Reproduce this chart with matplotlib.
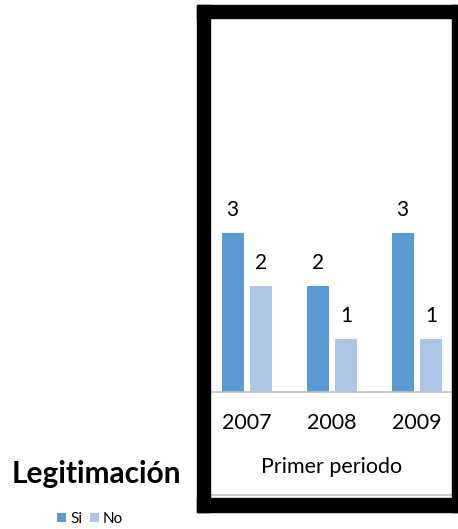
import matplotlib.pyplot as plt
from matplotlib.patches import Rectangle
from matplotlib.lines import Line2D
import numpy as np

plt.rcParams['font.family'] = ['Lato', 'DejaVu Sans']

years = ["2007", "2008", "2009"]
si_values = [3, 2, 3]
no_values = [2, 1, 1]
period_label = "Primer periodo"
title = "Legitimación"

W, H = 458, 529
fig = plt.figure(figsize=(W / 100, H / 100), dpi=100)

def fx(px):
    return px / W

def fy(py):
    return 1 - py / H

# black frame around the chart area
frame = [(197, 5, 13, 507), (197, 5, 261, 13), (452, 5, 6, 507), (197, 498, 261, 14)]
for x0, y0, w, h in frame:
    fig.patches.append(Rectangle((fx(x0), fy(y0 + h)), w / W, h / H,
                                 transform=fig.transFigure, color="black", zorder=5))
fig.lines.append(Line2D([fx(210), fx(452)], [fy(495), fy(495)],
                        transform=fig.transFigure, color="#bfbfbf", lw=1.2))

ax = fig.add_axes([fx(210), fy(392), fx(451) - fx(210), fy(18) - fy(392)])
x = np.arange(len(years))
bw = 0.26
off = 0.168
b1 = ax.bar(x - off, si_values, bw, color="#5b9bd5", label="Si")
b2 = ax.bar(x + off, no_values, bw, color="#adc6e8", label="No")
for bars in (b1, b2):
    for b in bars:
        ax.text(b.get_x() + b.get_width() / 2, b.get_height() + 0.25, f"{b.get_height():g}",
                ha="center", va="bottom", fontsize=15)

ax.set_xlim(-0.435, 2.4)
ax.set_ylim(0, 7.06)
for s in ["top", "left", "right"]:
    ax.spines[s].set_visible(False)
ax.spines["bottom"].set_color("#bfbfbf")
ax.spines["bottom"].set_linewidth(1.2)
ax.set_yticks([])
ax.set_xticks(x)
ax.set_xticklabels(years, fontsize=15.5)
ax.tick_params(axis="x", length=0, pad=15)

fig.text(fx(332), fy(467), period_label, ha="center", va="center", fontsize=15.5)
fig.text(fx(96), fy(474), title, ha="center", va="center", fontsize=21.5, fontweight="bold")

leg = fig.legend(handles=[b1, b2], loc="center", bbox_to_anchor=(fx(90), fy(519)),
                 ncol=2, frameon=False, fontsize=11, handlelength=0.6, handleheight=0.6,
                 handletextpad=0.25, columnspacing=0.5)

fig.savefig("out.png", dpi=100)
